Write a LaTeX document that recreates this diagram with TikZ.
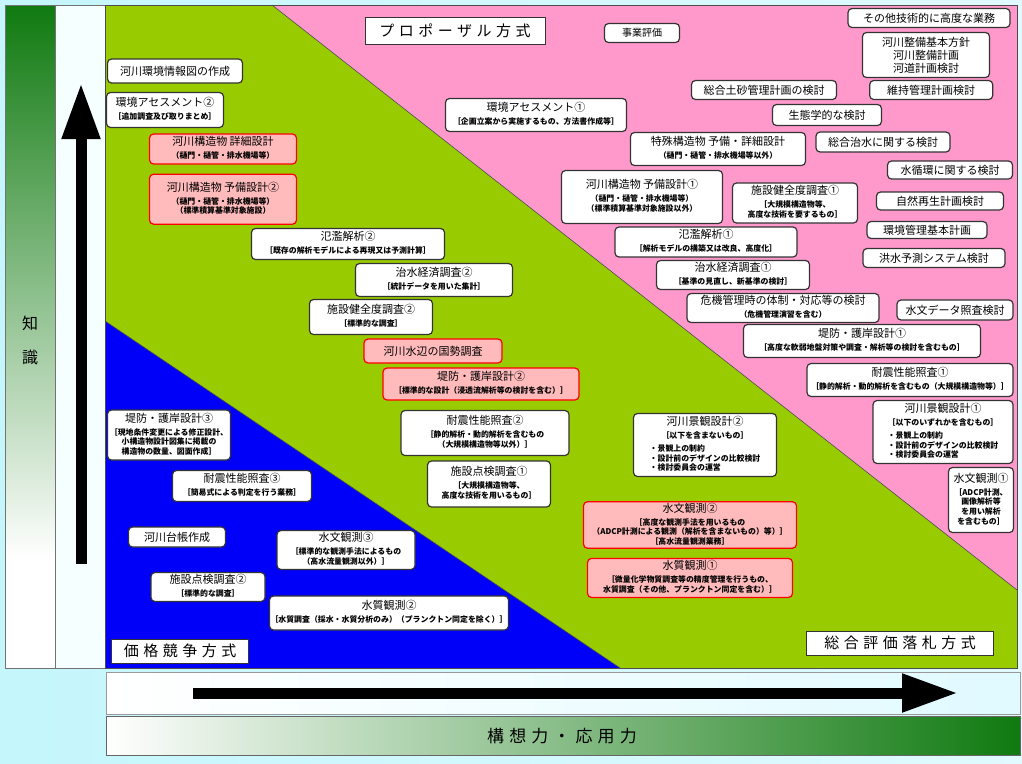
\documentclass[tikz,border=0pt]{standalone}
\usepackage{fontspec}
\setmainfont{Noto Sans CJK JP}
\newfontfamily\widefont[LetterSpace=30]{Noto Sans CJK JP}
\usetikzlibrary{positioning,arrows.meta}
\definecolor{pinkbg}{RGB}{255,153,204}
\definecolor{greenbg}{RGB}{153,204,0}
\definecolor{bluebg}{RGB}{0,0,250}
\definecolor{redfill}{RGB}{255,187,187}
\definecolor{darkgrn}{RGB}{16,122,16}
\definecolor{leftmid}{RGB}{150,182,140}
\definecolor{barmid}{RGB}{205,216,200}
\definecolor{bgleft}{RGB}{196,246,252}
\definecolor{bgright}{RGB}{224,250,255}
\definecolor{colw}{RGB}{245,255,255}
\newcommand\smtx[2][c]{{\fontsize{7.9}{9.5}\selectfont\bfseries\begin{tabular}[t]{@{}#1@{}}#2\end{tabular}}}

\begin{document}
\begin{tikzpicture}[x=1pt,y=-1pt,
    box/.style={draw=black!80,line width=1.2pt,fill=white,rounded corners=4pt,
      align=center,inner sep=1pt,font=\fontsize{11}{13}\selectfont},
    redbox/.style={box,draw=red,fill=redfill},
    tag/.style={draw=black!80,line width=1pt,fill=white,inner sep=0pt,
      font=\widefont\fontsize{15}{17}\selectfont},
    sz/.style 2 args={minimum width=#1,minimum height=#2},
    bigarrow/.style={line width=11pt,-{Triangle[length=56pt,width=36pt]}}]
  \useasboundingbox (0,0) rectangle (1022,763);
  \shade[left color=bgleft,middle color=white,right color=bgright] (0,0) rectangle (1022,763);

  % axes
  \shade[top color=darkgrn,middle color=leftmid,bottom color=white] (5,5) rectangle (55,560);
  \fill[white] (5,560) rectangle (55,668);
  \fill[colw] (55,5) rectangle (105,668);
  \draw[black!55,line width=0.8pt] (5,5) rectangle (105,668) (55,5) -- (55,668);
  \shade[left color=white,middle color=white,right color=bgright] (106,672) rectangle (1020,714);
  \draw[black!40,line width=0.8pt] (106,672) rectangle (1020,714);
  \shade[left color=white,middle color=barmid,right color=darkgrn] (106,716) rectangle (1020,755);
  \draw[black!60,line width=0.8pt] (106,716) rectangle (1020,755);

  % zones
  \fill[greenbg] (105,5) rectangle (1017,668);
  \fill[pinkbg] (272,5) -- (1017,5) -- (1017,590) -- cycle;
  \fill[bluebg] (105,321) -- (620,668) -- (105,668) -- cycle;
  \draw[black!70,line width=0.6pt] (272,5) -- (1017,590) (105,321) -- (620,668);
  \draw[black!70,line width=0.8pt] (105,5) rectangle (1017,668);

  \node[font=\fontsize{16}{18}\selectfont,align=center] (chishiki) at (30,340) {知\\[16pt]識};
  \node[font=\widefont\fontsize{17}{19}\selectfont] (koso) at (562,736) {構想力・応用力};

  \coordinate (ua) at (81,564);
  \coordinate (ub) at (81,83);
  \draw[bigarrow] (ua) -- (ub);
  \coordinate (ra) at (193,693);
  \coordinate (rb) at (958,693);
  \draw[bigarrow] (ra) -- (rb);

  % pink zone
  \node[tag,sz={180}{27}] (prop) at (455,31) {プロポーザル方式};
  \node[box,sz={75}{19},font=\fontsize{10}{12}\selectfont] (jigyo) at (642,33) {事業評価};
  \node[box,sz={162}{19}] (sonota) at (929,18) {その他技術的に高度な業務};
  \node[box,sz={127}{45}] (seibi) at (926,55) {河川整備基本方針\\河川整備計画\\河道計画検討};
  \node[box,sz={145}{19}] (dosha) at (764,90) {総合土砂管理計画の検討};
  \node[box,sz={123}{19},right=32pt of dosha] (iji) {維持管理計画検討};
  \node[box,sz={109}{21}] (seitai) at (827,115) {生態学的な検討};
  \node[box,sz={134}{20}] (sogo) at (883,142) {総合治水に関する検討};
  \node[box,sz={125}{18}] (junkan) at (950,170) {水循環に関する検討};
  \node[box,sz={181}{33}] (asses1) at (536,115) {環境アセスメント①\\\smtx{［企画立案から実施するもの、方法書作成等］}};
  \node[box,sz={175}{33}] (tokushu) at (718,149) {特殊構造物 予備・詳細設計\\\smtx{（樋門・樋管・排水機場等以外）}};
  \node[box,sz={161}{53}] (yobi1) at (642,197) {河川構造物 予備設計①\\\smtx{（樋門・樋管・排水機場等）\\（標準積算基準対象施設以外）}};
  \node[box,sz={125}{40}] (kenzen1) at (795,203) {施設健全度調査①\\\smtx{［大規模構造物等、\\高度な技術を要するもの］}};
  \node[box,sz={127}{18}] (saisei) at (940,201) {自然再生計画検討};
  \node[box,sz={120}{17}] (kankyo) at (927,230) {環境管理基本計画};
  \node[box,sz={142}{19}] (kozui) at (934,258) {洪水予測システム検討};
  \node[box,sz={182}{30}] (hanran1) at (706,242) {氾濫解析①\\\smtx{［解析モデルの構築又は改良、高度化］}};
  \node[box,sz={153}{29}] (keizai1) at (733,275) {治水経済調査①\\\smtx{［基準の見直し、新基準の検討］}};
  \node[box,sz={192}{29}] (kiki) at (783,308) {危機管理時の体制・対応等の検討\\\smtx{（危機管理演習を含む）}};
  \node[box,sz={116}{20}] (suimon) at (955,310) {水文データ照査検討};
  \node[box,sz={237}{33}] (teibo1) at (862,341) {堤防・護岸設計①\\\smtx{［高度な軟弱地盤対策や調査・解析等の検討を含むもの］}};
  \node[box,sz={206}{33}] (taishin1) at (910,380) {耐震性能照査①\\\smtx{［静的解析・動的解析を含むもの（大規模構造物等）］}};
  \node[box,sz={140}{63}] (keikan1) at (943,432) {河川景観設計①\\\smtx{［以下のいずれかを含むもの］}\\\smtx[l]{・景観上の制約\\・設計前のデザインの比較検討\\・検討委員会の運営}\hspace{22pt}};
  \node[box,sz={65}{65}] (kansoku1) at (981,500) {水文観測①\\\smtx{［ADCP計測、\\画像解析等\\を用い解析\\を含むもの］}};
  \node[tag,sz={187}{24}] (rakusatsu) at (900,643) {総合評価落札方式};

  % green zone
  \node[box,sz={135}{24}] (joho) at (175,71) {河川環境情報図の作成};
  \node[box,sz={117}{35}] (asses2) at (165,110) {環境アセスメント②\\\smtx{［追加調査及び取りまとめ］}};
  \node[redbox,sz={147}{30}] (shosai) at (223,149) {河川構造物 詳細設計\\\smtx{（樋門・樋管・排水機場等）}};
  \node[redbox,sz={147}{50},below=9pt of shosai] (yobi2) {河川構造物 予備設計②\\\smtx{（樋門・樋管・排水機場等）\\（標準積算基準対象施設）}};
  \node[box,sz={193}{31}] (hanran2) at (348,244) {氾濫解析②\\\smtx{［既存の解析モデルによる再現又は予測計算］}};
  \node[box,sz={157}{33}] (keizai2) at (434,280) {治水経済調査②\\\smtx{［統計データを用いた集計］}};
  \node[box,sz={123}{35}] (kenzen2) at (371,317) {施設健全度調査②\\\smtx{［標準的な調査］}};
  \node[redbox,sz={138}{24}] (mizube) at (433,351) {河川水辺の国勢調査};
  \node[redbox,sz={196}{32}] (teibo2) at (481,384) {堤防・護岸設計②\\\smtx{［標準的な設計（浸透流解析等の検討を含む）］}};
  \node[box,sz={168}{45}] (taishin2) at (485,433) {耐震性能照査②\\\smtx{［静的解析・動的解析を含むもの\\（大規模構造物等以外）］}};
  \node[box,sz={123}{46}] (tenken1) at (489,484) {施設点検調査①\\\smtx{［大規模構造物等、\\高度な技術を用いるもの］}};
  \node[box,sz={143}{63}] (keikan2) at (705,445) {河川景観設計②\\\smtx{［以下を含まないもの］}\\\smtx[l]{・景観上の制約\\・設計前のデザインの比較検討\\・検討委員会の運営}\hspace{28pt}};
  \node[redbox,sz={213}{46}] (kansoku2) at (690,525) {水文観測②\\\smtx{［高度な観測手法を用いるもの\\（ADCP計測による観測（解析を含まないもの）等）］\\［高水流量観測業務］}};
  \node[redbox,sz={205}{39},below=9pt of kansoku2] (suishitsu1) {水質観測①\\\smtx{［微量化学物質調査等の精度管理を行うもの、\\水質調査（その他、プランクトン同定を含む）］}};

  % blue zone
  \node[box,sz={123}{50}] (teibo3) at (169,435) {堤防・護岸設計③\\\smtx{［現地条件変更による修正設計、\\小構造物設計図集に掲載の\\構造物の数量、図面作成］}};
  \node[box,sz={139}{31}] (taishin3) at (242,486) {耐震性能照査③\\\smtx{［簡易式による判定を行う業務］}};
  \node[box,sz={97}{20}] (daicho) at (177,537) {河川台帳作成};
  \node[box,sz={138}{39}] (kansoku3) at (346,550) {水文観測③\\\smtx{［標準的な観測手法によるもの\\（高水流量観測以外）］}};
  \node[box,sz={114}{29}] (tenken2) at (208,587) {施設点検調査②\\\smtx{［標準的な調査］}};
  \node[box,sz={237}{34}] (suishitsu2) at (389,613) {水質観測②\\\smtx{［水質調査（採水・水質分析のみ）（プランクトン同定を除く）］}};
  \node[tag,sz={137}{24}] (kakaku) at (180,651) {価格競争方式};
\end{tikzpicture}
\end{document}
